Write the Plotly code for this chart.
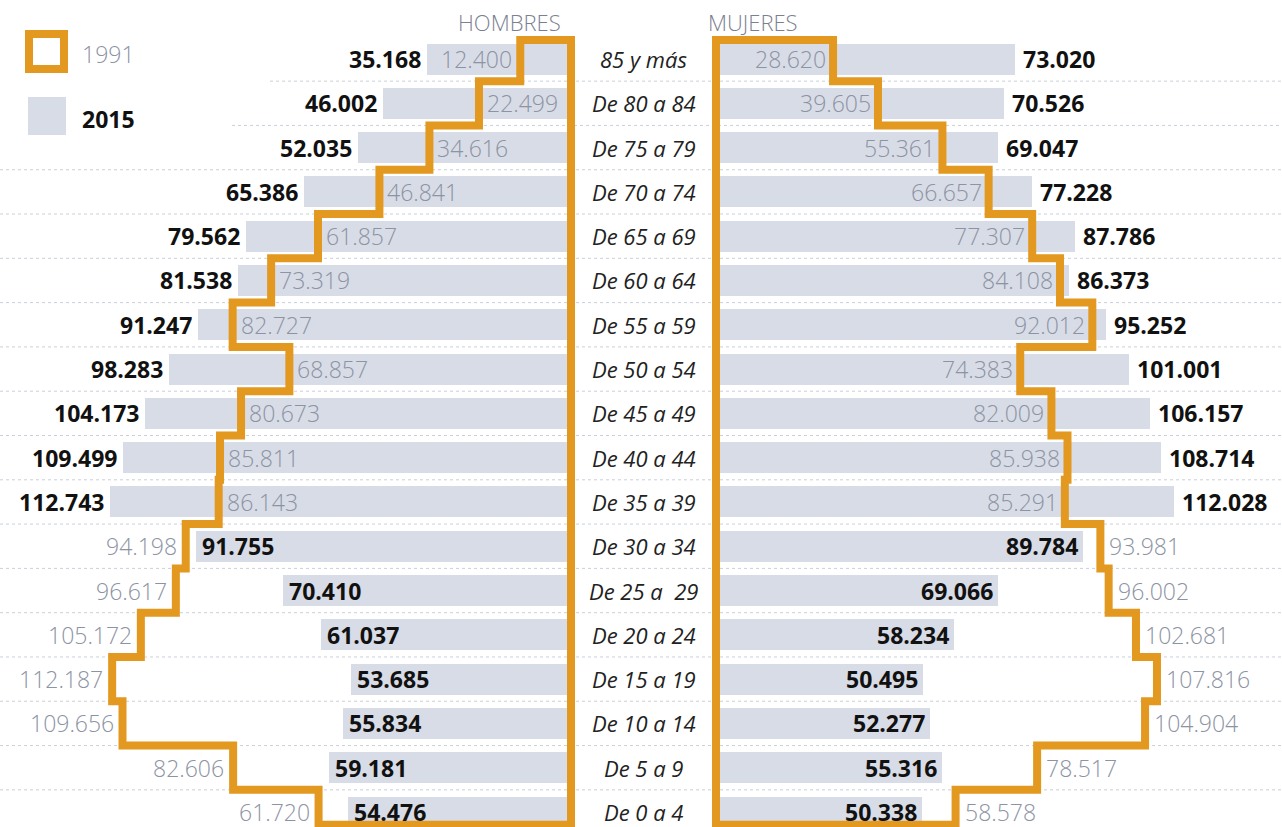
import plotly.graph_objects as go

# ---------------- data (bottom row first) ----------------
age_groups = ["De 0 a 4", "De 5 a 9", "De 10 a 14", "De 15 a 19", "De 20 a 24",
              "De 25 a  29", "De 30 a 34", "De 35 a 39", "De 40 a 44", "De 45 a 49",
              "De 50 a 54", "De 55 a 59", "De 60 a 64", "De 65 a 69", "De 70 a 74",
              "De 75 a 79", "De 80 a 84", "85 y más"]
hombres_2015 = [54476, 59181, 55834, 53685, 61037, 70410, 91755, 112743, 109499,
                104173, 98283, 91247, 81538, 79562, 65386, 52035, 46002, 35168]
hombres_1991 = [61720, 82606, 109656, 112187, 105172, 96617, 94198, 86143, 85811,
                80673, 68857, 82727, 73319, 61857, 46841, 34616, 22499, 12400]
mujeres_2015 = [50338, 55316, 52277, 50495, 58234, 69066, 89784, 112028, 108714,
                106157, 101001, 95252, 86373, 87786, 77228, 69047, 70526, 73020]
mujeres_1991 = [58578, 78517, 104904, 107816, 102681, 96002, 93981, 85291, 85938,
                82009, 74383, 92012, 84108, 77307, 66657, 55361, 39605, 28620]
series_names = ["1991", "2015"]
panel_titles = ["HOMBRES", "MUJERES"]

# ---------------- styling ----------------
W, H = 1282, 827
ORANGE = "#E3981F"
BAR = "#D8DCE6"
GRAY_TXT = "#8C93A3"
DARK = "#111111"
GRID = "#C9D0D9"
FONT = "Open Sans"

PX_PER_UNIT = 4.09 / 1000.0
MEN_ZERO_PX = 571
WOMEN_ZERO_PX = 716
MEN_DOM_END = 582
WOMEN_DOM_START = 705
ROW_PX = 44.294
ROW0_CENTER_PX = 812
OUT_TOP = 0.43      # outline extension above top row center (rows)
OUT_BOT = 0.29      # outline extension below bottom row center (rows)
BAR_W = 0.70

rows = list(range(len(age_groups)))
n = len(rows)

def fmt(v):
    return f"{v:,}".replace(",", ".")

y_min = -(H - ROW0_CENTER_PX) / ROW_PX
y_max = y_min + H / ROW_PX

men_range = [(MEN_ZERO_PX - 0) / PX_PER_UNIT, (MEN_ZERO_PX - MEN_DOM_END) / PX_PER_UNIT]
women_range = [(WOMEN_DOM_START - WOMEN_ZERO_PX) / PX_PER_UNIT, (W - WOMEN_ZERO_PX) / PX_PER_UNIT]

fig = go.Figure()

# bars 2015
fig.add_trace(go.Bar(x=hombres_2015, y=rows, orientation="h", width=BAR_W,
                     marker=dict(color=BAR, line=dict(width=0)),
                     xaxis="x", yaxis="y", hoverinfo="skip", showlegend=False))
fig.add_trace(go.Bar(x=mujeres_2015, y=rows, orientation="h", width=BAR_W,
                     marker=dict(color=BAR, line=dict(width=0)),
                     xaxis="x2", yaxis="y", hoverinfo="skip", showlegend=False))


def outline(vals):
    top = rows[-1] + OUT_TOP
    bot = rows[0] - OUT_BOT
    xs, ys = [0, vals[-1]], [top, top]
    for i in range(n - 1, 0, -1):
        b = rows[i] - 0.5
        xs += [vals[i], vals[i - 1]]
        ys += [b, b]
    xs += [vals[0], 0, 0, vals[-1]]
    ys += [bot, bot, top, top]
    return xs, ys

for vals, xa in [(hombres_1991, "x"), (mujeres_1991, "x2")]:
    xs, ys = outline(vals)
    fig.add_trace(go.Scatter(x=xs, y=ys, mode="lines", xaxis=xa, yaxis="y",
                             line=dict(color=ORANGE, width=8, shape="linear"),
                             hoverinfo="skip", showlegend=False))

ann = []
bold_font = dict(family=FONT, size=23, color=DARK, weight=700)
light_font = dict(family=FONT, size=23, color=GRAY_TXT, weight=300)

for i in rows:
    m15, m91 = hombres_2015[i], hombres_1991[i]
    f15, f91 = mujeres_2015[i], mujeres_1991[i]
    # men (reversed axis: larger values to the left)
    if m15 > m91:
        ann.append(dict(x=m15, y=i, xref="x", yref="y", text=fmt(m15), xanchor="right",
                        xshift=-4, showarrow=False, font=bold_font))
        inner_fits = m91 * PX_PER_UNIT > 80
        ann.append(dict(x=m91, y=i, xref="x", yref="y", text=fmt(m91),
                        xanchor="left" if inner_fits else "right",
                        xshift=6 if inner_fits else -6, showarrow=False, font=light_font))
    else:
        ann.append(dict(x=m91, y=i, xref="x", yref="y", text=fmt(m91), xanchor="right",
                        xshift=-7, showarrow=False, font=light_font))
        ann.append(dict(x=m15, y=i, xref="x", yref="y", text=fmt(m15), xanchor="left",
                        xshift=4, showarrow=False, font=bold_font))
    # women
    if f15 > f91:
        ann.append(dict(x=f15, y=i, xref="x2", yref="y", text=fmt(f15), xanchor="left",
                        xshift=6, showarrow=False, font=bold_font))
        ann.append(dict(x=f91, y=i, xref="x2", yref="y", text=fmt(f91), xanchor="right",
                        xshift=-5, showarrow=False, font=light_font))
    else:
        ann.append(dict(x=f15, y=i, xref="x2", yref="y", text=fmt(f15), xanchor="right",
                        xshift=-3, showarrow=False, font=bold_font))
        ann.append(dict(x=f91, y=i, xref="x2", yref="y", text=fmt(f91), xanchor="left",
                        xshift=7, showarrow=False, font=light_font))
    # center label
    ann.append(dict(x=(MEN_ZERO_PX + WOMEN_ZERO_PX) / 2 / W, y=i, xref="paper", yref="y",
                    text=age_groups[i], xanchor="center", showarrow=False,
                    font=dict(family=FONT, size=22, color="#222222", style="italic")))

# panel titles
for title, cx in zip(panel_titles, [509, 753]):
    ann.append(dict(x=cx / W, y=1 - 22 / H, xref="paper", yref="paper", text=title,
                    xanchor="center", yanchor="middle", showarrow=False,
                    font=dict(family=FONT, size=22, color="#7A8090", weight=300)))

# legend
ann.append(dict(x=80 / W, y=1 - 54 / H, xref="paper", yref="paper", text=series_names[0],
                xanchor="left", yanchor="middle", showarrow=False, font=light_font))
ann.append(dict(x=80 / W, y=1 - 119 / H, xref="paper", yref="paper", text=series_names[1],
                xanchor="left", yanchor="middle", showarrow=False, font=bold_font))

shapes = [
    dict(type="rect", xref="paper", yref="paper", x0=29 / W, x1=64 / W,
         y0=1 - 69 / H, y1=1 - 34 / H, line=dict(color=ORANGE, width=8),
         fillcolor="rgba(0,0,0,0)"),
    dict(type="rect", xref="paper", yref="paper", x0=28 / W, x1=66 / W,
         y0=1 - 135 / H, y1=1 - 97 / H, line=dict(width=0), fillcolor=BAR),
]
# dotted row separators
grid_start_px = {n - 2: 270, n - 3: 232}
for i in rows[:-1]:
    start = grid_start_px.get(i, 0)
    shapes.append(dict(type="line", xref="paper", yref="y", x0=start / W, x1=1,
                       y0=i + 0.5, y1=i + 0.5, layer="below",
                       line=dict(color=GRID, width=1, dash="dot")))

fig.update_layout(
    width=W, height=H,
    margin=dict(l=0, r=0, t=0, b=0),
    paper_bgcolor="white", plot_bgcolor="rgba(0,0,0,0)",
    barmode="overlay", bargap=0,
    showlegend=False,
    xaxis=dict(domain=[0, MEN_DOM_END / W], range=men_range, visible=False,
               fixedrange=True),
    xaxis2=dict(domain=[WOMEN_DOM_START / W, 1], range=women_range, visible=False,
                anchor="y", fixedrange=True),
    yaxis=dict(range=[y_min, y_max], visible=False, fixedrange=True),
    annotations=ann,
    shapes=shapes,
)

fig.write_html("out.html", config={"displayModeBar": False},
               post_script="document.body.style.margin='0';document.body.style.overflow='hidden';")
